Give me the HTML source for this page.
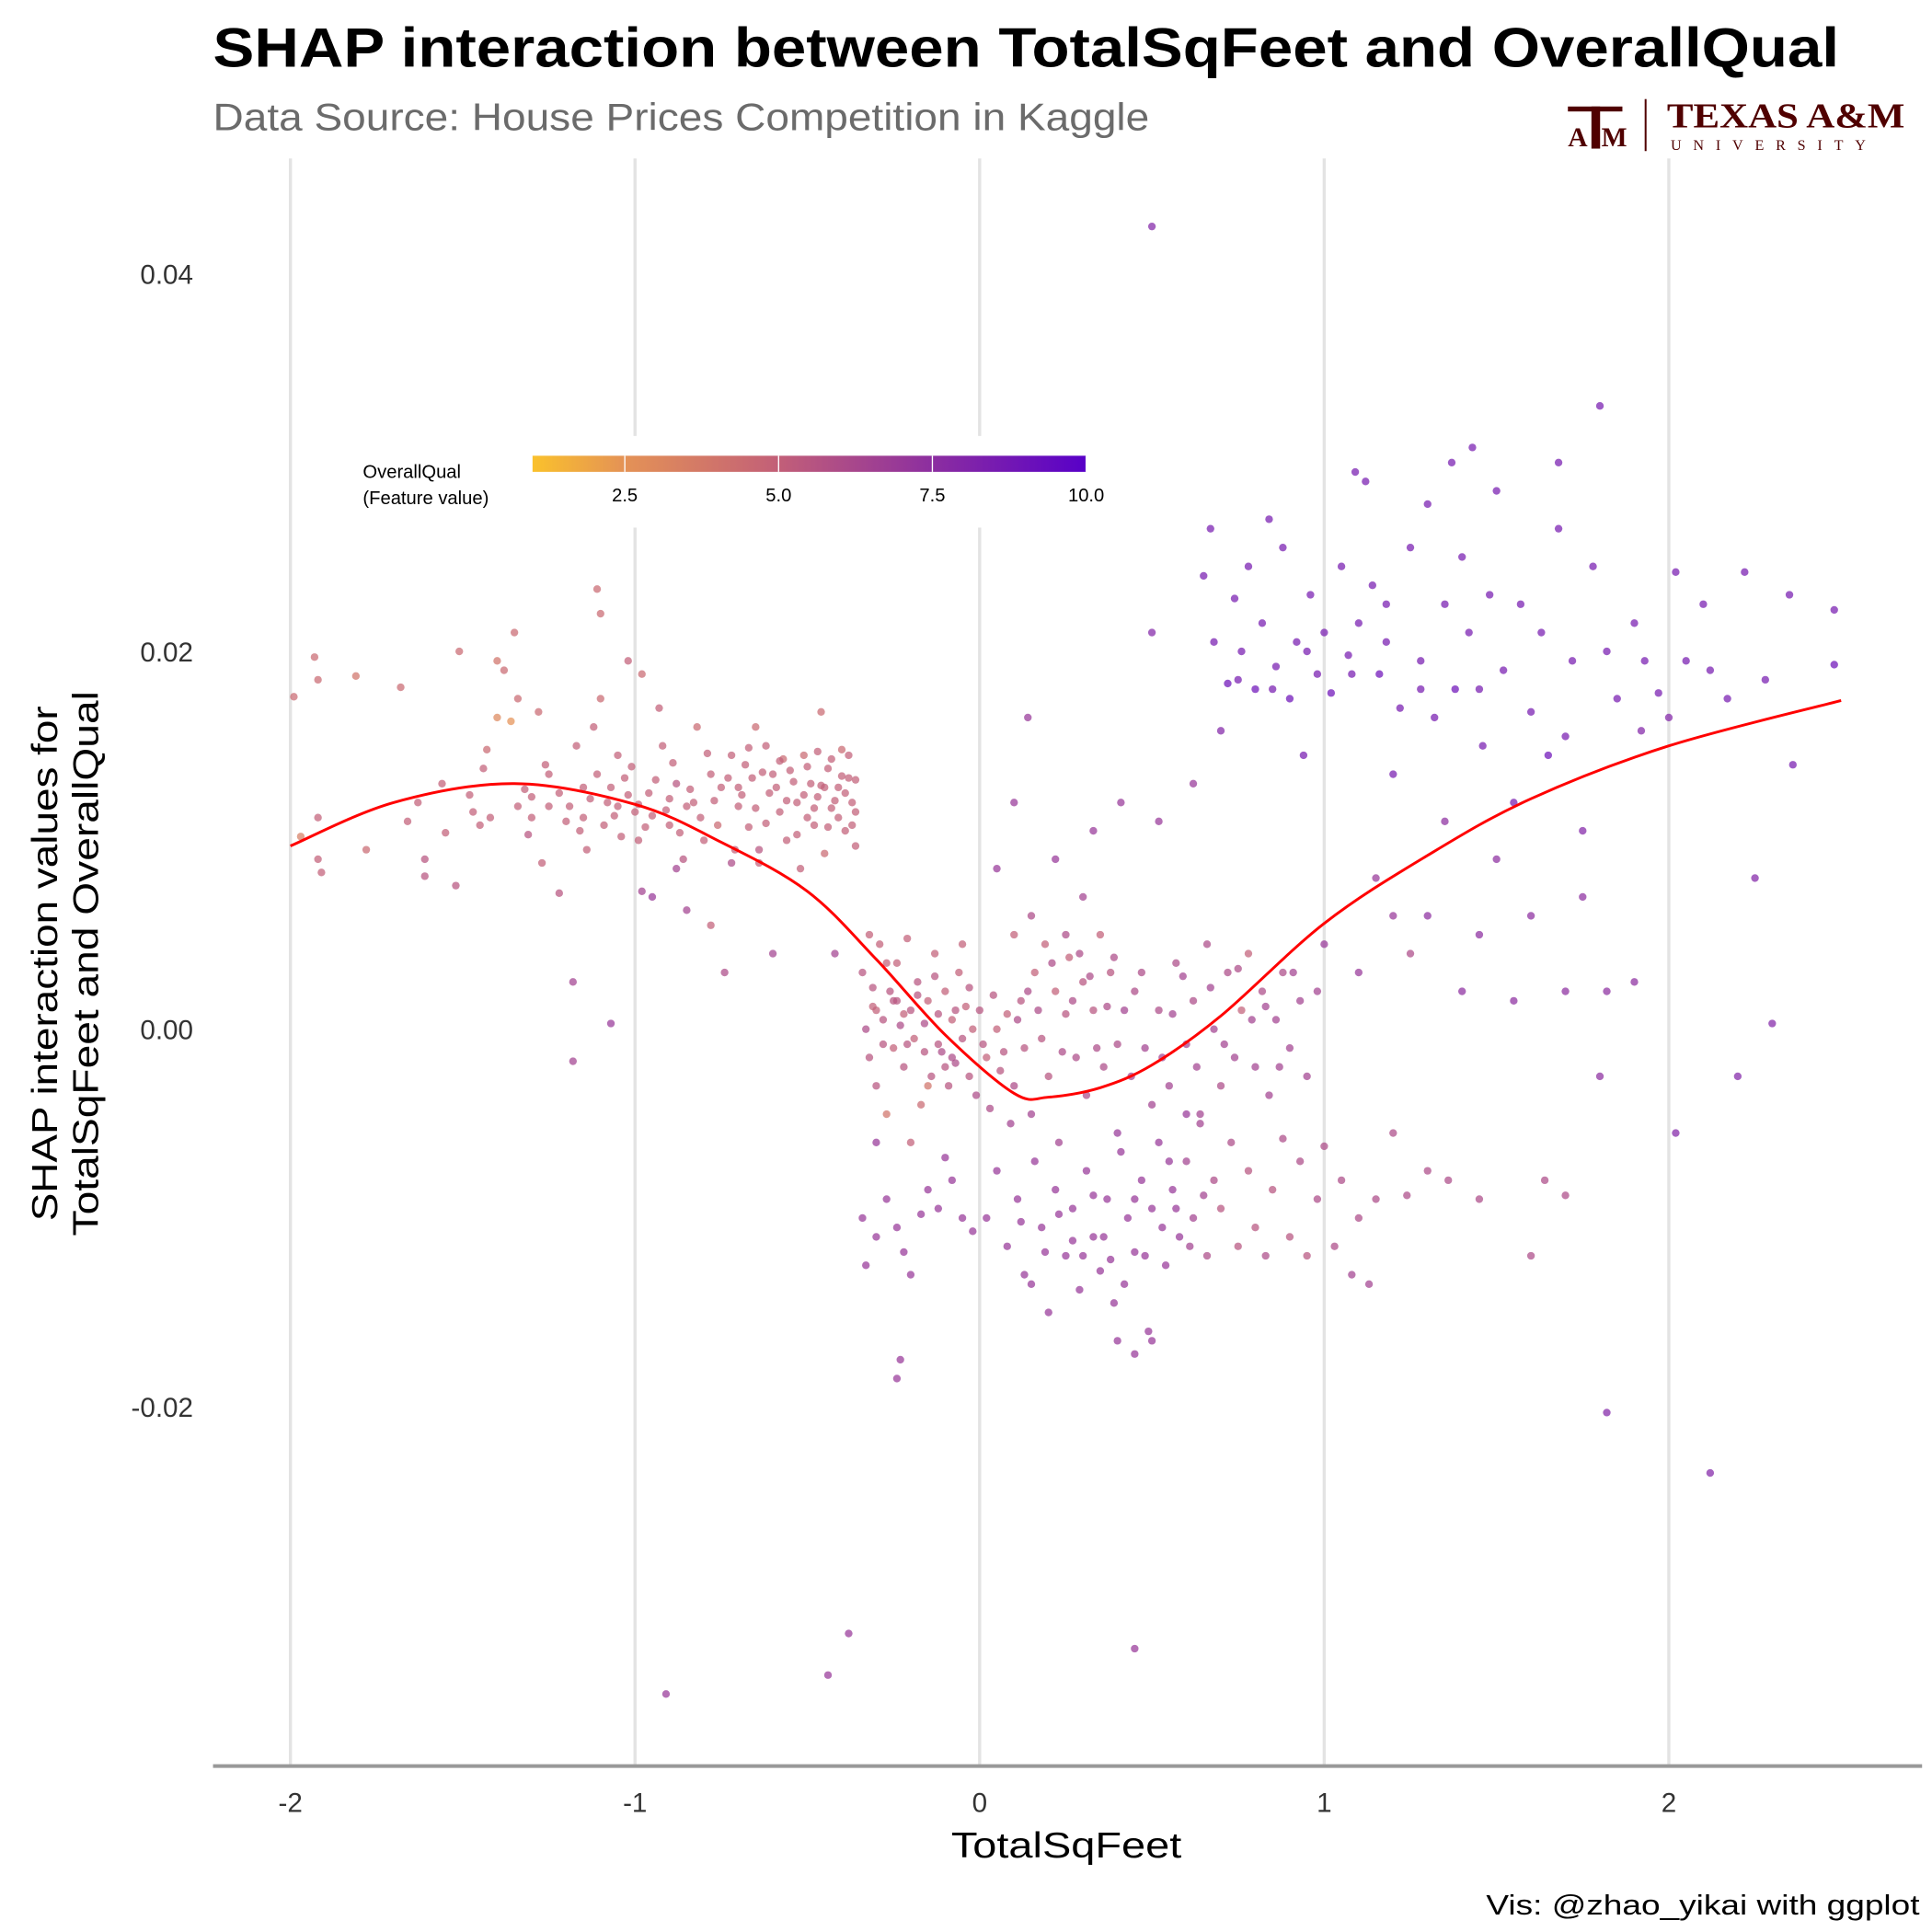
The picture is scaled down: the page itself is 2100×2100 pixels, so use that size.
<!DOCTYPE html>
<html><head><meta charset="utf-8"><style>
html,body{margin:0;padding:0;background:#fff;}
svg{display:block;font-family:"Liberation Sans",Arial,sans-serif;}
</style></head><body>
<svg id="chart" width="2100" height="2100" viewBox="0 0 1560 1560" xmlns="http://www.w3.org/2000/svg">
<rect x="0" y="0" width="1560" height="1560" fill="#fff"/>
<text x="172" y="54" font-size="45" font-weight="bold" fill="#000" textLength="1313" lengthAdjust="spacingAndGlyphs">SHAP interaction between TotalSqFeet and OverallQual</text>
<text x="172" y="105" font-size="31" fill="#6b6b6b" textLength="756" lengthAdjust="spacingAndGlyphs">Data Source: House Prices Competition in Kaggle</text>
<g fill="#500000">
<rect x="1266" y="86" width="44" height="4"/>
<rect x="1285" y="86" width="7" height="34"/>
<text x="1266" y="118" font-family="Liberation Serif,serif" font-size="22" font-weight="bold">A</text>
<text x="1293" y="118" font-family="Liberation Serif,serif" font-size="22" font-weight="bold">M</text>
<rect x="1328" y="80" width="1.5" height="42"/>
<text x="1346" y="103" font-family="Liberation Serif,serif" font-size="28" font-weight="bold" textLength="192" lengthAdjust="spacingAndGlyphs">TEXAS A&amp;M</text>
<text x="1349" y="121" font-family="Liberation Serif,serif" font-size="12" letter-spacing="9.5">UNIVERSITY</text>
</g>
<g id="grid"></g>
<rect x="280" y="352" width="620" height="74" fill="#fff"/>
<g id="legend"></g>
<g id="points"></g>
<path id="smooth" fill="none" stroke="#ff0000" stroke-width="2.2"/>
<line x1="172" y1="1426" x2="1552" y2="1426" stroke="#999" stroke-width="3"/>
<g id="xticks"></g>
<g id="yticks"></g>
<text x="861" y="1500" font-size="29" text-anchor="middle" fill="#000" textLength="186" lengthAdjust="spacingAndGlyphs">TotalSqFeet</text>
<g transform="translate(46,778) rotate(-90)">
<text x="0" y="0" font-size="29" text-anchor="middle" fill="#000" textLength="416" lengthAdjust="spacingAndGlyphs">SHAP interaction values for</text>
<text x="0" y="33" font-size="29" text-anchor="middle" fill="#000" textLength="440" lengthAdjust="spacingAndGlyphs">TotalSqFeet and OverallQual</text>
</g>
<text x="1550" y="1546" font-size="23" text-anchor="end" fill="#000" textLength="350" lengthAdjust="spacingAndGlyphs">Vis: @zhao_yikai with ggplot</text>
</svg>
<script>
const xTicks=[-2,-1,0,1,2];
const yTicks=[-0.02,0,0.02,0.04];
const yTickLabels=["-0.02","0.00","0.02","0.04"];
const legendTicks=[2.5,5,7.5,10];
const legendLabels=["2.5","5.0","7.5","10.0"];
const smoothX=[-2,-1.7,-1.35,-1,-0.75,-0.5,-0.3,-0.1,0.1,0.2,0.35,0.5,0.7,1,1.3,1.6,2,2.5];
const smoothY=[0.0097,0.0120,0.0130,0.0119,0.0099,0.0073,0.0037,-0.0003,-0.0034,-0.0036,-0.0031,-0.0019,0.0007,0.0056,0.0092,0.0122,0.0150,0.0174];
const pts="-1.99,0.0176,4.5;-1.93,0.0197,4.5;-1.92,0.0185,4.5;-1.97,0.0102,3.5;-1.92,0.0112,5;-1.92,0.009,5;-1.91,0.0083,5;-1.81,0.0187,4;-1.78,0.0095,4.5;-1.68,0.0181,4.5;-1.66,0.011,5;-1.63,0.012,5;-1.61,0.009,5.5;-1.61,0.0081,5.5;-1.56,0.013,5;-1.55,0.0104,5;-1.52,0.0076,5.5;-1.51,0.02,4.5;-1.48,0.0124,5;-1.47,0.0115,5;-1.44,0.0138,5;-1.43,0.0148,4.5;-1.42,0.0112,5;-1.4,0.0195,4;-1.4,0.0165,3;-1.38,0.019,4.5;-1.36,0.0163,2.5;-1.35,0.021,4.5;-1.34,0.0175,4.5;-1.32,0.0127,5;-1.31,0.0103,5.5;-1.3,0.0123,5;-1.28,0.0168,4.5;-1.27,0.0088,5;-1.26,0.014,5;-1.25,0.0118,5;-1.22,0.0072,5.5;-1.2,0.011,5;-1.18,0.0025,6.5;-1.18,-0.0017,6.5;-1.17,0.015,5;-1.15,0.0128,5;-1.14,0.0095,5;-1.12,0.016,5;-1.11,0.0233,4.5;-1.1,0.022,4.5;-1.1,0.0175,4.5;-1.08,0.012,5;-1.07,0.0003,7;-1.05,0.0145,5;-1.03,0.0133,5;-1.02,0.0195,5;-1,0.0115,5;-0.99,0.01,5;-0.98,0.0188,4.5;-0.96,0.0125,5;-0.95,0.007,7;-0.93,0.017,5;-0.92,0.015,5;-0.9,0.0108,5;-0.88,0.013,5.5;-0.86,0.009,5.5;-0.85,0.0063,6.5;-0.83,0.012,5;-0.82,0.016,4.5;-0.8,0.01,5;-0.78,0.0135,5;-0.78,0.0055,5;-0.76,0.0108,4.5;-0.75,0.0128,5;-0.74,0.003,6;-0.72,0.0145,5;-0.71,0.0095,5;-0.7,0.0118,5;-0.68,0.014,5;-0.67,0.0107,5;-0.66,0.0133,5;-0.65,0.016,4.5;-0.64,0.0088,5;-0.62,0.015,5;-0.61,0.0125,5;-0.6,0.004,6.5;-0.58,0.0115,5;-0.57,0.0143,4.5;-0.56,0.01,5;-0.55,0.0137,5;-0.53,0.012,5;-0.52,0.0085,5;-0.51,0.0145,4.5;-0.49,0.013,5;-0.48,0.0108,5;-0.47,0.0123,5;-0.46,0.0168,4.5;-0.45,0.0093,4.5;-0.44,0.0138,5;-0.43,0.0117,5;-0.42,0.004,6.5;-0.41,0.0128,5;-0.4,0.0148,4.5;-0.39,0.0105,5;-0.38,0.0133,5;-0.37,0.012,5;-0.36,0.0097,5;-0.91,-0.0352,7;-0.44,-0.0342,7;-0.38,-0.032,7;-1.25,0.0135,5;-1.15,0.0112,5;-1.05,0.0118,5;-0.95,0.0113,5;-0.9,0.0122,5;-0.7,0.0128,5;-0.6,0.0135,5;-0.5,0.0112,5;-0.45,0.0128,5;-0.85,0.0118,5;-0.34,0.003,5.5;-0.33,0,6;-0.32,-0.0015,5.5;-0.31,0.0012,5;-0.3,-0.003,5.5;-0.29,0.0045,5;-0.28,0.0005,5.5;-0.27,-0.0045,4;-0.26,0.002,5.5;-0.25,-0.001,5;-0.24,0.0035,5;-0.23,0.0002,6;-0.22,-0.002,5.5;-0.21,0.0048,5;-0.2,0.001,5.5;-0.19,-0.0005,5;-0.18,0.0025,5.5;-0.17,-0.004,4.5;-0.16,0.0003,6;-0.15,0.0015,5;-0.14,-0.0025,5.5;-0.13,0.004,5;-0.12,0.0008,5.5;-0.11,-0.0012,6;-0.1,0.002,5;-0.09,-0.003,5.5;-0.08,0.0005,5;-0.07,-0.0018,6;-0.06,0.003,5;-0.05,-0.0005,5.5;-0.04,0.0012,5;-0.03,-0.0025,5.5;-0.02,0,5;-0.01,-0.0035,6;0,0.001,5.5;0.02,-0.0015,5;0.03,-0.0042,6;0.05,0,5;0.06,-0.0022,5.5;0.08,0.0008,5;0.09,-0.005,6.5;0.1,-0.003,6;0.12,0.0015,5.5;0.13,-0.001,5.5;0.15,-0.0045,6.5;0.16,0.003,5;0.18,-0.0005,5.5;0.19,0.0045,5;0.2,-0.0025,5.5;0.22,0.002,5;0.23,-0.006,6.5;0.25,0.0008,5.5;0.26,0.0038,5;0.28,-0.0015,6;0.3,0.0025,5.5;0.31,-0.0035,6;0.33,0.001,5.5;0.35,0.005,5;0.36,-0.002,6;0.38,0.003,5.5;0.4,-0.0008,6;-0.2,-0.006,5;-0.32,0.005,5;-0.05,0.0045,5;0.1,0.005,5;-0.15,-0.003,4;-0.3,0.001,5;-0.25,0.0015,5.5;-0.22,0.0008,5;-0.12,-0.0008,5.5;-0.08,-0.0015,6;-0.28,-0.0008,5.5;-0.34,-0.01,7;-0.33,-0.0125,7;-0.3,-0.011,7;-0.27,-0.009,7;-0.24,-0.0105,7;-0.22,-0.0118,7;-0.2,-0.013,7;-0.17,-0.0098,7;-0.15,-0.0085,7;-0.12,-0.0095,7;-0.08,-0.008,7;-0.05,-0.01,7;-0.02,-0.0107,7;-0.24,-0.0185,7;-0.23,-0.0175,7;-0.1,-0.0068,7;-0.3,-0.006,7;0.02,-0.01,7;0.05,-0.0075,7;0.08,-0.0115,7;0.11,-0.009,7;0.13,-0.013,7;0.16,-0.007,7;0.18,-0.0105,7;0.2,-0.015,7;0.22,-0.0085,7;0.25,-0.012,7;0.27,-0.0095,7;0.29,-0.0138,7;0.31,-0.0075,7;0.33,-0.011,7;0.35,-0.0128,7;0.37,-0.009,7;0.39,-0.0145,7;0.41,-0.0065,7;0.43,-0.01,7;0.45,-0.0118,7;0.47,-0.008,7;0.49,-0.016,7;0.5,-0.0095,7;0.52,-0.006,7;0.54,-0.0125,7;0.56,-0.0085,7;0.58,-0.011,7;0.6,-0.007,6.5;0.62,-0.01,6.5;0.64,-0.005,6.5;0.66,-0.012,6;0.68,-0.008,6;0.7,-0.0095,5.5;0.73,-0.006,6;0.75,-0.0115,5.5;0.78,-0.0075,5.5;0.8,-0.0105,5.5;0.83,-0.012,6;0.85,-0.0085,5.5;0.88,-0.0058,6;0.9,-0.011,5.5;0.93,-0.007,6;0.95,-0.012,5.5;0.98,-0.009,6;1,-0.0062,6;1.03,-0.0115,6;1.05,-0.008,6;1.08,-0.013,6.5;1.1,-0.01,6;1.13,-0.0135,6.5;1.15,-0.009,6;1.2,-0.0055,6;1.24,-0.0088,6;1.3,-0.0075,6;1.36,-0.008,6;1.45,-0.009,6;1.6,-0.012,6;1.64,-0.008,6;1.7,-0.0088,6;0.45,-0.0172,7;0.5,-0.0165,7;0.15,-0.0135,7;0.3,-0.012,7;0.4,-0.0055,7;0.55,-0.007,7;0.6,-0.0045,7;0.45,-0.009,7;0.45,0.002,6;0.48,-0.001,6.5;0.5,-0.004,6.5;0.52,0.001,6;0.55,-0.003,6.5;0.57,0.0035,6;0.6,-0.0008,6.5;0.62,0.0015,6;0.64,-0.0045,6.5;0.66,0.0045,6;0.68,0,6.5;0.7,-0.003,6;0.72,0.003,6;0.74,-0.0015,6.5;0.76,0.001,5;0.78,0.004,5;0.8,-0.002,6.5;0.82,0.002,6;0.84,-0.0035,6.5;0.86,0.0005,6.5;0.88,0.003,6;0.9,-0.001,6.5;0.93,0.0015,6.5;0.95,-0.0025,6.5;0.98,0.002,6.5;0.3,0.007,6.5;0.25,0.005,6;0.15,0.006,6;0.05,0.0085,7;0.1,0.012,7;0.22,0.009,7;0.33,0.0105,7;0.41,0.012,7;0.52,0.011,7;0.62,0.013,7;0.14,0.0165,7;0.5,0.021,8;0.5,0.0425,8;0.65,0.024,8.5;0.67,0.0265,8.5;0.68,0.0205,8.5;0.7,0.0158,8;0.72,0.0183,9;0.74,0.0228,8.5;0.76,0.02,8.5;0.78,0.0245,8.5;0.8,0.018,9;0.82,0.0215,8.5;0.84,0.027,8.5;0.86,0.0192,8.5;0.88,0.0255,8.5;0.9,0.0175,9;0.92,0.0205,8.5;0.94,0.0145,8.5;0.96,0.023,8.5;0.98,0.0188,8.5;1,0.021,8.5;1.02,0.0178,9;1.05,0.0245,8.5;1.07,0.0198,8.5;1.09,0.0295,8.5;1.1,0.0215,8.5;1.12,0.029,8.5;1.14,0.0235,8.5;1.16,0.0188,9;1.18,0.0205,8.5;1.2,0.0135,8.5;1.22,0.017,8.5;1.25,0.0255,8.5;1.28,0.0195,8.5;1.3,0.0278,8.5;1.32,0.0165,8.5;1.35,0.0225,8.5;1.37,0.03,8.5;1.38,0.018,9;1.4,0.025,8.5;1.42,0.021,8.5;1.43,0.0308,8.5;1.46,0.015,8.5;1.48,0.023,8.5;1.5,0.0285,8.5;1.52,0.019,8.5;1.55,0.012,8.5;1.57,0.0225,8.5;1.6,0.0168,8.5;1.63,0.021,8.5;1.65,0.0145,9;1.68,0.03,8.5;1.68,0.0265,8.5;1.7,0.0155,8.5;1.72,0.0195,8.5;1.75,0.0105,8;1.78,0.0245,8.5;1.8,0.033,8.5;1.82,0.02,8.5;1.85,0.0175,8.5;1.9,0.0215,8.5;1.93,0.0195,8.5;1.97,0.0178,8.5;2.02,0.0242,8.5;2.05,0.0195,8.5;2.1,0.0225,8.5;2.12,0.019,8.5;2.17,0.0175,8.5;2.22,0.0242,8.5;2.25,0.008,8;2.28,0.0185,8.5;2.35,0.023,8.5;2.36,0.014,8.5;2.48,0.0222,8.5;2.48,0.0193,9;2,0.0165,8;1.92,0.0158,8;1.55,0.0015,7.5;1.6,0.006,7.5;1.7,0.002,7.5;1.75,0.007,7.5;1.8,-0.0025,7.5;1.82,0.002,7.5;1.9,0.0025,7.5;2.02,-0.0055,8;2.2,-0.0025,8;2.3,0.0003,8;1.82,-0.0203,8;2.12,-0.0235,8;1.4,0.002,7.5;1.45,0.005,7.5;1.2,0.006,7;1.25,0.004,6;1.1,0.003,7;1.15,0.008,7;1.35,0.011,7.5;1.3,0.006,7.5;1.5,0.009,7.5;1,0.0045,7;0.45,-0.0328,7;0.4,-0.0165,7;0.75,0.0185,8.5;0.85,0.018,8.5;0.95,0.02,8.5;1.08,0.0188,8.5;1.18,0.0225,8.5;1.28,0.018,8.5;1.45,0.018,8.5";
const pts2="-1.19,0.0118,5;-1.16,0.0105,5;-1.13,0.0122,5;-1.11,0.0135,5;-1.09,0.0108,5;-1.07,0.0128,5;-1.06,0.0113,5;-1.04,0.0102,5;-1.02,0.0124,5;-1.01,0.0139,5;-0.99,0.0119,5;-0.97,0.0107,5;-0.94,0.0132,5;-0.91,0.0116,5;-0.89,0.0141,5;-0.87,0.0104,5;-0.84,0.0127,5;-0.81,0.0112,5;-0.79,0.0146,5;-0.77,0.0121,5;-0.73,0.0133,5;-0.69,0.0124,5;-0.67,0.0149,5;-0.65,0.0117,5;-0.63,0.0136,5;-0.62,0.0109,5;-0.59,0.0128,5;-0.58,0.0142,5;-0.56,0.0121,5;-0.54,0.0131,5;-0.53,0.0103,5;-0.51,0.0124,5;-0.5,0.0139,5;-0.48,0.0117,5;-0.47,0.0147,5;-0.46,0.0129,5;-0.44,0.0107,5;-0.43,0.0143,5;-0.42,0.0121,5;-0.41,0.0112,5;-0.4,0.0134,5;-0.39,0.0125,5;-0.38,0.0145,5;-0.37,0.0108,5;-0.36,0.0132,5;-0.36,0.0115,5;-1.3,0.0112,5;-1.22,0.0125,5;-1.34,0.0118,5;-1.45,0.0108,5;-0.98,0.0073,6.5;-0.88,0.0085,6.5;-0.72,0.0088,6;-0.64,0.0095,5.5;-0.31,0.0022,5.5;-0.27,0.0035,5;-0.24,0.0015,5.5;-0.21,-0.0008,5.5;-0.18,0.0018,5.5;-0.16,-0.0012,5.5;-0.13,0.0028,5.5;-0.1,-0.002,5.5;-0.07,0.001,5.5;-0.03,0.0022,5.5;0.01,-0.0008,5.5;0.04,0.0018,5.5;0.07,-0.0012,5.5;0.11,0.0005,6;0.14,0.002,6;0.17,0.001,6;0.21,0.0035,6;0.24,-0.0012,6;0.27,0.0015,6;0.29,0.004,6;0.32,0.0028,6;0.34,-0.001,6;0.37,0.0012,6;0.39,0.0038,6;0.42,0.001,6.5;0.44,-0.0025,6.5;0.47,0.003,6;0.53,-0.0015,6.5;0.56,0.0008,6.5;0.59,0.0028,6.5;0.63,-0.002,6.5;0.67,0.0022,6.5;0.71,-0.0008,6.5;0.75,0.0032,6;0.79,0.0005,6.5;0.83,0.0012,6.5;0.87,-0.002,6.5;0.91,0.003,6.5;0.36,-0.011,7;0.42,-0.0135,7;0.48,-0.012,7;0.53,-0.0105,7;0.57,-0.0095,7;0.61,-0.0115,6.5;0.65,-0.0088,6.5;0.23,-0.0098,7;0.27,-0.0112,7;0.33,-0.0088,7;0.38,-0.0122,7;0.19,-0.0118,7;0.12,-0.0102,7";
const xs=[],ys=[],qs=[];
(pts+";"+pts2).split(";").forEach(s=>{const p=s.split(",").map(Number);xs.push(p[0]);ys.push(p[1]);qs.push(p[2]);});

const NS="http://www.w3.org/2000/svg";
const sx=v=>791+v*278.25;
const sy=v=>831-v*15250;
const lx=v=>430+(v-1)*49.67;
const stops=[[1,[250,193,44]],[2.5,[228,146,86]],[5,[194,95,120]],[7.5,[140,46,160]],[10,[88,0,200]]];
function col(q){q=Math.max(1,Math.min(10,q));for(let i=0;i<stops.length-1;i++){const a=stops[i],b=stops[i+1];if(q<=b[0]){const t=(q-a[0])/(b[0]-a[0]);const c=a[1].map((v,k)=>Math.round(v+(b[1][k]-v)*t));return `rgb(${c.join(",")})`;}}return "rgb(88,0,200)";}
function mk(tag,attrs,parent){const e=document.createElementNS(NS,tag);for(const k in attrs)e.setAttribute(k,attrs[k]);parent.appendChild(e);return e;}

const grid=document.getElementById("grid");
xTicks.forEach(t=>{
  const l=mk("line",{x1:sx(t),x2:sx(t),y1:128,y2:1426,stroke:"#e3e3e3","stroke-width":2.5},grid);
  
  
});
const xt=document.getElementById("xticks");
xTicks.forEach(t=>{
  const e=mk("text",{x:sx(t),y:1463,"font-size":22,"text-anchor":"middle",fill:"#333"},xt);
  e.textContent=String(t);
  
  
});
const yt=document.getElementById("yticks");
yTicks.forEach((t,i)=>{
  const e=mk("text",{x:156,y:sy(t)+8,"font-size":22,"text-anchor":"end",fill:"#333"},yt);
  e.textContent=yTickLabels[i];
  
  
});
const lg=document.getElementById("legend");
const defs=mk("defs",{},lg);
const grad=mk("linearGradient",{id:"lgGrad",x1:0,x2:1,y1:0,y2:0},defs);
stops.forEach(s=>mk("stop",{offset:(s[0]-1)/9,"stop-color":col(s[0])},grad));
const lt1=mk("text",{x:293,y:386,"font-size":15,fill:"#000"},lg);lt1.textContent="OverallQual";


const lt2=mk("text",{x:293,y:407,"font-size":15,fill:"#000"},lg);lt2.textContent="(Feature value)";


const bar=mk("rect",{x:lx(1),y:368,width:lx(10)-lx(1),height:13,fill:"url(#lgGrad)"},lg);


legendTicks.forEach((t,i)=>{
  mk("line",{x1:lx(t),x2:lx(t),y1:368,y2:381,stroke:"#fff","stroke-width":1},lg);
  const e=mk("text",{x:lx(t),y:405,"font-size":15,"text-anchor":"middle",fill:"#000"},lg);
  e.textContent=legendLabels[i];
  
  
});
const pg=document.getElementById("points");
for(let i=0;i<xs.length;i++){
  const c=mk("circle",{cx:sx(xs[i]),cy:sy(ys[i]),r:3.1,fill:col(qs[i]),"fill-opacity":0.72},pg);
  
  
}
const P=smoothX.map((x,i)=>[sx(x),sy(smoothY[i])]);
let d=`M${P[0][0]},${P[0][1]}`;
for(let i=0;i<P.length-1;i++){const p0=P[Math.max(0,i-1)],p1=P[i],p2=P[i+1],p3=P[Math.min(P.length-1,i+2)];
d+=` C${p1[0]+(p2[0]-p0[0])/6},${p1[1]+(p2[1]-p0[1])/6} ${p2[0]-(p3[0]-p1[0])/6},${p2[1]-(p3[1]-p1[1])/6} ${p2[0]},${p2[1]}`;}
document.getElementById("smooth").setAttribute("d",d);
</script>
</body></html>
